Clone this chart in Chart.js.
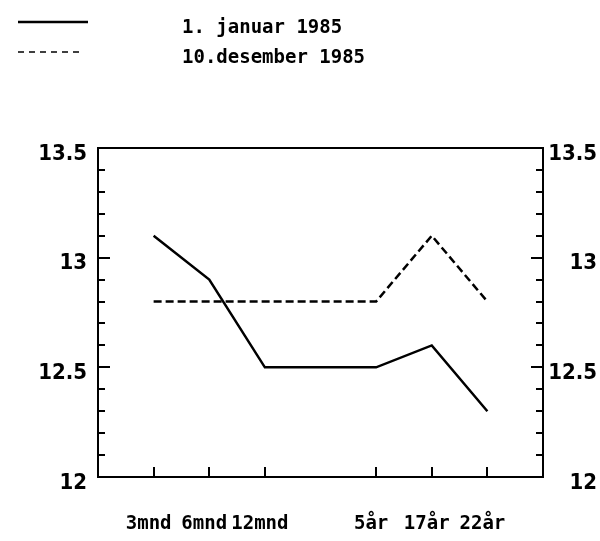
<!DOCTYPE html>
<html>
<head>
<meta charset="utf-8">
<script src="https://cdn.jsdelivr.net/npm/chart.js@4"></script>
<style>
  html, body { margin: 0; padding: 0; background: #fff; }
  #wrap { width: 600px; height: 541px; position: relative; }
</style>
</head>
<body>
<div id="wrap"><canvas id="c"></canvas></div>
<script>
// ---- data ----
const categories = ['', '3mnd', '6mnd', '12mnd', '', '5år', '17år', '22år', ''];
const januar1985 = [null, 13.1, 12.9, 12.5, null, 12.5, 12.6, 12.3, null];
const desember1985 = [null, 12.8, 12.8, 12.8, null, 12.8, 13.1, 12.8, null];
const seriesLabels = ['1. januar 1985', '10.desember 1985'];
const yTickLabels = [12, 12.5, 13, 13.5];
const yMin = 12, yMax = 13.5, yMinorStep = 0.1;

const labelFont = { family: "'DejaVu Sans Condensed', 'Liberation Sans', sans-serif", size: 22, weight: 'bold' };
const monoFont = "'DejaVu Sans Mono', 'Liberation Mono', monospace";

const framePlugin = {
  id: 'framePlugin',
  afterDraw(chart) {
    const ctx = chart.ctx;
    const a = chart.chartArea;
    const y = chart.scales.y;
    const x = chart.scales.x;
    ctx.save();
    ctx.strokeStyle = '#000';
    ctx.lineWidth = 2;
    ctx.setLineDash([]);
    ctx.strokeRect(a.left, a.top, a.right - a.left, a.bottom - a.top);
    // y ticks (inward, left and right)
    const n = Math.round((yMax - yMin) / yMinorStep);
    ctx.lineWidth = 2;
    for (let i = 0; i <= n; i++) {
      const v = yMin + i * yMinorStep;
      const major = yTickLabels.some(t => Math.abs(t - v) < 1e-6);
      const len = major ? 12 : 7;
      const py = Math.round(y.getPixelForValue(v));
      ctx.beginPath();
      ctx.moveTo(a.left, py); ctx.lineTo(a.left + len, py);
      ctx.moveTo(a.right, py); ctx.lineTo(a.right - len, py);
      ctx.stroke();
    }
    // x ticks (inward, at labelled categories)
    categories.forEach((c, i) => {
      if (!c) return;
      const px = Math.round(x.getPixelForValue(i));
      ctx.beginPath();
      ctx.moveTo(px, a.bottom); ctx.lineTo(px, a.bottom - 10);
      ctx.stroke();
    });
    // legend
    const ds = chart.data.datasets;
    const legendY = [22, 52];
    const lineEnds = [88, 82];
    ds.forEach((d, i) => {
      ctx.beginPath();
      ctx.lineWidth = i === 0 ? 2.5 : 1.5;
      ctx.setLineDash(i === 0 ? [] : [6, 5]);
      ctx.moveTo(18, legendY[i]);
      ctx.lineTo(lineEnds[i], legendY[i]);
      ctx.stroke();
      ctx.setLineDash([]);
      ctx.fillStyle = '#000';
      ctx.font = 'bold 19px ' + monoFont;
      ctx.textBaseline = 'middle';
      ctx.textAlign = 'left';
      ctx.fillText(d.label, 182, legendY[i] + 6);
    });
    ctx.restore();
  }
};

new Chart(document.getElementById('c'), {
  type: 'line',
  data: {
    labels: categories,
    datasets: [
      { label: seriesLabels[0], data: januar1985, borderColor: '#000', borderWidth: 2.5, pointRadius: 0, spanGaps: true, tension: 0, fill: false },
      { label: seriesLabels[1], data: desember1985, borderColor: '#000', borderWidth: 2.5, borderDash: [8, 4], pointRadius: 0, spanGaps: true, tension: 0, fill: false }
    ]
  },
  options: {
    responsive: true,
    maintainAspectRatio: false,
    animation: false,
    layout: { padding: { top: 148, left: 0, right: 3, bottom: 0 } },
    plugins: { legend: { display: false }, tooltip: { enabled: false } },
    scales: {
      x: {
        type: 'category',
        offset: false,
        grid: { display: false, drawTicks: false },
        border: { display: false },
        ticks: { autoSkip: false, maxRotation: 0, minRotation: 0, padding: 36, labelOffset: -5, color: '#000', font: { family: monoFont, size: 19, weight: 'bold' } },
        afterFit(s) { s.height = 64; }
      },
      y: {
        position: 'left',
        min: yMin, max: yMax,
        grid: { display: false, drawTicks: false },
        border: { display: false },
        afterBuildTicks(s) { s.ticks = yTickLabels.map(v => ({ value: v })); },
        ticks: { padding: 11, labelOffset: 6, color: '#000', font: labelFont, callback: v => String(v) },
        afterFit(s) { s.width = 98; }
      },
      y2: {
        position: 'right',
        min: yMin, max: yMax,
        grid: { display: false, drawTicks: false },
        border: { display: false },
        afterBuildTicks(s) { s.ticks = yTickLabels.map(v => ({ value: v })); },
        ticks: { crossAlign: 'far', labelOffset: 6, color: '#000', font: labelFont, callback: v => String(v) },
        afterFit(s) { s.width = 54; }
      }
    }
  },
  plugins: [framePlugin]
});
</script>
</body>
</html>
